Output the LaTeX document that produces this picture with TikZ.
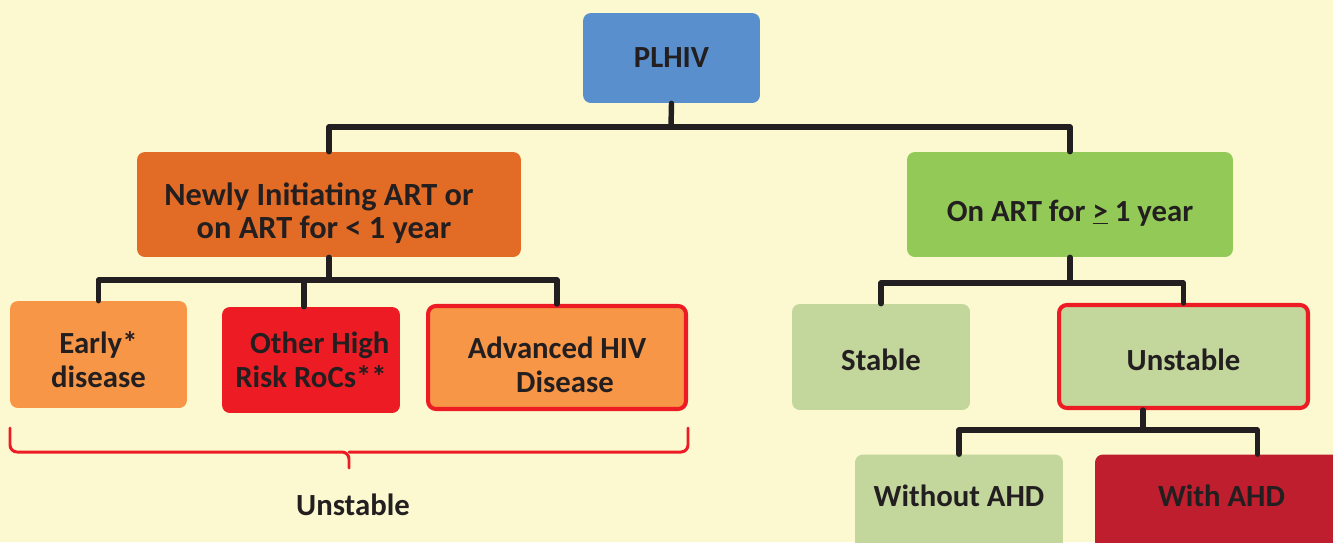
\documentclass[tikz,border=0pt]{standalone}
\usepackage{fontspec}
\setmainfont{Carlito}
\usetikzlibrary{calc}
\definecolor{bgyellow}{HTML}{FCF9D1}
\definecolor{plblue}{HTML}{5A8FCE}
\definecolor{newor}{HTML}{E26C26}
\definecolor{artgreen}{HTML}{92C957}
\definecolor{lightor}{HTML}{F79646}
\definecolor{rocred}{HTML}{ED1C24}
\definecolor{paleg}{HTML}{C3D69B}
\definecolor{ahdred}{HTML}{BE1E2D}
\definecolor{ink}{HTML}{231F20}
% text set lower in its box, by #1
\newcommand{\sunk}[2]{\raisebox{-#1}[\height][\depth]{#2}}
\newcommand{\twoline}[3]{\raisebox{-#1}[\height][\depth]{\begin{tabular}{@{}c@{}}#2\\#3\end{tabular}}}

\begin{document}
\begin{tikzpicture}[line cap=round,line join=round,x=0.02cm,y=-0.02cm,
  font=\fontsize{17.5}{19.5}\selectfont\bfseries, text=ink,
  box/.style={rounded corners=4.5pt, align=center, inner sep=0pt},
  flag/.style={box, draw=rocred, line width=2.3pt},
  conn/.style={draw=ink, line width=3.1pt}]
\useasboundingbox (0,0) rectangle (1333,542);
\clip (0,0) rectangle (1333,542);
\fill [bgyellow] (0,0) rectangle (1333,542);
% boxes
\node [box, fill=plblue, minimum width=3.54cm, minimum height=1.8cm] (plhiv) at (671.5,58) {PLHIV};
\node [box, fill=newor, minimum width=7.68cm, minimum height=2.1cm, font=\fontsize{18.4}{19.3}\selectfont\bfseries] (newly) at (329,204.5) {\twoline{6.1pt}{Newly Initiating ART or\hspace*{0.4cm}}{on ART for < 1 year\hspace*{0.2cm}}};
\node [box, fill=artgreen, minimum width=6.52cm, minimum height=2.1cm] (onart) at (1070,204.5) {\sunk{4.8pt}{On ART for \underline{>} 1 year}};
\node [box, fill=lightor, minimum width=3.54cm, minimum height=2.14cm] (early) at (98.5,354.5) {\twoline{5.3pt}{Early*}{disease}};
\node [box, fill=rocred, minimum width=3.56cm, minimum height=2.12cm] (other) at (311,360) {\twoline{2pt}{\hspace*{0.35cm}Other High}{Risk RoCs**}};
\node [flag, fill=lightor, minimum width=5.16cm, minimum height=2.06cm] (adv) at (557,357.5) {\twoline{6.5pt}{Advanced HIV}{\hspace*{0.32cm}Disease}};
\node [box, fill=paleg, minimum width=3.56cm, minimum height=2.12cm] (stable) at (881,357) {\sunk{1.7pt}{Stable}};
\node [flag, fill=paleg, minimum width=4.98cm, minimum height=2.06cm] (unst) at (1183.5,356.5) {\sunk{1.7pt}{Unstable}};
\node [box, fill=paleg, minimum width=4.16cm, minimum height=1.9cm] (without) at (959,502) {\sunk{-3.4pt}{Without AHD}};
\node [box, fill=ahdred, minimum width=5.3cm, minimum height=1.9cm] (withahd) at (1227.5,502) {\sunk{-3.4pt}{With AHD\hspace*{0.24cm}}};
\node (unstlab) at (353,505) {Unstable};
% connectors
\coordinate (t1) at (671,127);
\coordinate (t2) at (332,280);
\coordinate (t3) at (1070,283);
\coordinate (t4) at (1143,430);
\draw [conn] (plhiv.south) -- (t1);
\draw [conn] (newly.north) |- (t1) -| (onart.north);
\draw [conn] (newly.south) -- (newly.south |- t2);
\draw [conn] (early.north) |- (t2) -| (adv.north);
\draw [conn] ([xshift=-0.14cm]other.north) -- ([xshift=-0.14cm]other.north |- t2);
\draw [conn] (onart.south) -- (t3);
\draw [conn] (stable.north) |- (t3) -| (unst.north);
\draw [conn] (unst.south -| t4) -- (t4);
\draw [conn] (without.north) |- (t4) -| ([xshift=0.6cm]withahd.north);
% brace under the left group
\draw [rocred, line width=1.7pt, rounded corners=4pt] (10,428) |- (349,452) -- (349,468);
\draw [rocred, line width=1.7pt, rounded corners=4pt] (688,428) |- (349,452);
\end{tikzpicture}
\end{document}
